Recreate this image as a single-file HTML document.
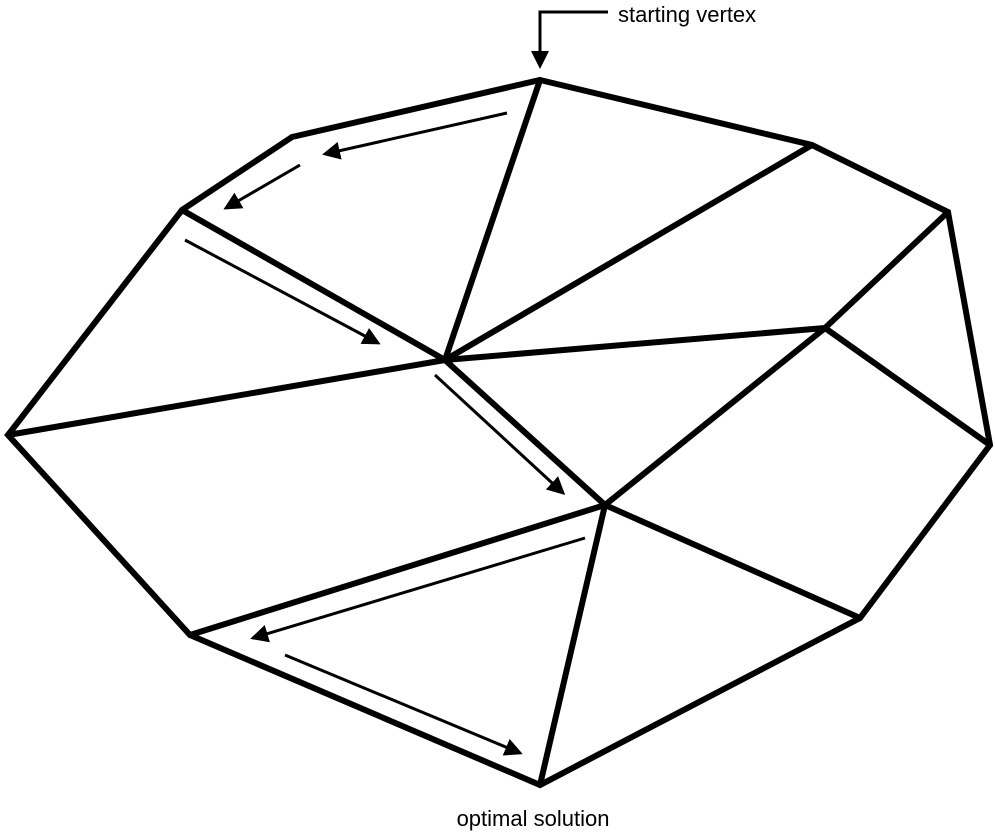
<!DOCTYPE html>
<html><head><meta charset="utf-8"><style>
html,body{margin:0;padding:0;background:#fff;width:995px;height:834px;overflow:hidden}
svg{display:block}
text{font-family:"Liberation Sans",sans-serif;font-size:22px;fill:#000}
</style></head><body>
<svg width="995" height="834" viewBox="0 0 995 834">
<defs>
<marker id="ah" markerWidth="6" markerHeight="6" refX="5" refY="3" orient="auto" markerUnits="strokeWidth">
<path d="M0,0 L6,3 L0,6 Z" fill="#000"/></marker>
</defs>
<g stroke="#000" stroke-width="6" fill="none" stroke-linejoin="miter" stroke-linecap="round">
<polygon points="540,80 812,145 948,212 990,445 860,618 540,785 190,635 8,435 182,210 292,137"/>
<g>
<line x1="540" y1="80" x2="445" y2="360"/>
<line x1="812" y1="145" x2="445" y2="360"/>
<line x1="825" y1="328" x2="445" y2="360"/>
<line x1="182" y1="210" x2="445" y2="360"/>
<line x1="8" y1="435" x2="445" y2="360"/>
<line x1="605" y1="505" x2="445" y2="360"/>
<line x1="825" y1="328" x2="948" y2="212"/>
<line x1="825" y1="328" x2="990" y2="445"/>
<line x1="825" y1="328" x2="605" y2="505"/>
<line x1="605" y1="505" x2="860" y2="618"/>
<line x1="605" y1="505" x2="540" y2="785"/>
<line x1="605" y1="505" x2="190" y2="635"/>
</g>
</g>
<g stroke="#000" stroke-width="3" fill="none">
<line x1="507" y1="113" x2="325" y2="154" marker-end="url(#ah)"/>
<line x1="300" y1="165" x2="226" y2="208" marker-end="url(#ah)"/>
<line x1="185" y1="240" x2="378" y2="343" marker-end="url(#ah)"/>
<line x1="435" y1="375" x2="563" y2="493" marker-end="url(#ah)"/>
<line x1="585" y1="538" x2="253" y2="638" marker-end="url(#ah)"/>
<line x1="285" y1="655" x2="520" y2="753" marker-end="url(#ah)"/>
<polyline points="608,12 540,12 540,66" marker-end="url(#ah)"/>
</g>
<text x="618" y="22">starting vertex</text>
<text x="533" y="826" text-anchor="middle">optimal solution</text>
</svg>
</body></html>
